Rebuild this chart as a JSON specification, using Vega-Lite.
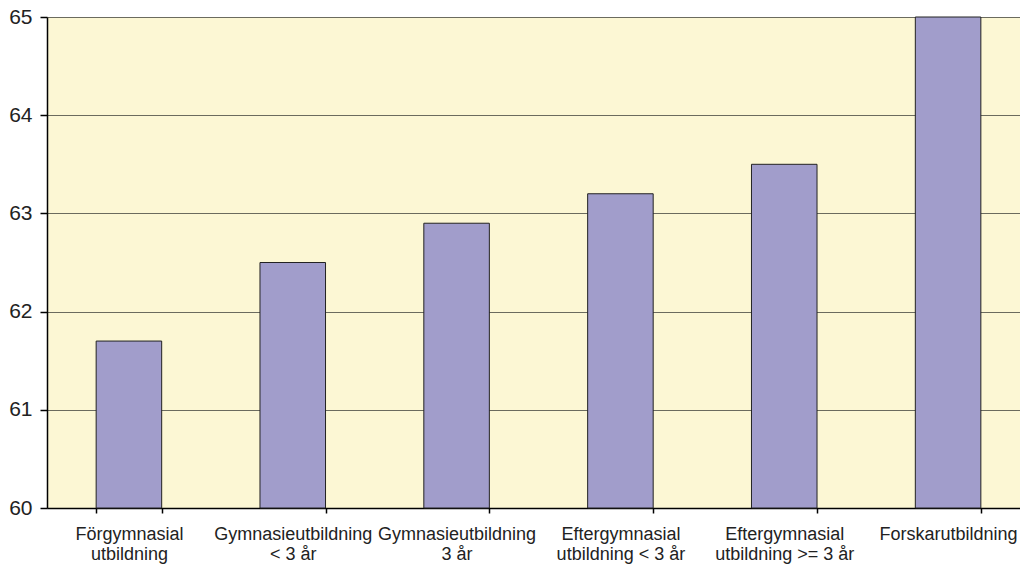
{
  "$schema": "https://vega.github.io/schema/vega-lite/v6.json",
  "width": 983,
  "height": 491,
  "autosize": {"type": "none"},
  "padding": {"left": 47, "top": 17, "right": 0, "bottom": 57},
  "background": "white",
  "config": {
    "view": {"fill": "#FCF7D4", "stroke": null},
    "font": "Liberation Sans"
  },
  "data": {
    "values": [
      {"utbildning": "Förgymnasial|utbildning", "varde": 61.7},
      {"utbildning": "Gymnasieutbildning|< 3 år", "varde": 62.5},
      {"utbildning": "Gymnasieutbildning|3 år", "varde": 62.9},
      {"utbildning": "Eftergymnasial|utbildning < 3 år", "varde": 63.2},
      {"utbildning": "Eftergymnasial|utbildning >= 3 år", "varde": 63.5},
      {"utbildning": "Forskarutbildning", "varde": 65.0}
    ]
  },
  "mark": {"type": "bar", "fill": "#A19DCB", "stroke": "#222222", "strokeWidth": 1},
  "encoding": {
    "x": {
      "field": "utbildning",
      "type": "nominal",
      "sort": null,
      "scale": {"paddingInner": 0.6, "paddingOuter": 0.3},
      "axis": {
        "title": null,
        "labelAngle": 0,
        "labelExpr": "split(datum.label, '|')",
        "labelFontSize": 18,
        "labelColor": "#222222",
        "labelLineHeight": 20,
        "labelPadding": 12,
        "labelLimit": 200,
        "tickBand": "extent",
        "tickSize": 5,
        "tickWidth": 1.5,
        "tickColor": "#000000",
        "domainColor": "#000000",
        "domainWidth": 1.5
      }
    },
    "y": {
      "field": "varde",
      "type": "quantitative",
      "scale": {"domain": [60, 65], "zero": false, "nice": false},
      "axis": {
        "title": null,
        "values": [60, 61, 62, 63, 64, 65],
        "labelFontSize": 21,
        "labelColor": "#222222",
        "labelPadding": 8,
        "tickSize": 7,
        "tickWidth": 1.5,
        "tickColor": "#000000",
        "domainColor": "#000000",
        "domainWidth": 1.5,
        "grid": true,
        "gridColor": "#6b6b5e",
        "gridOpacity": 1
      }
    },
    "y2": {"datum": 60}
  }
}
